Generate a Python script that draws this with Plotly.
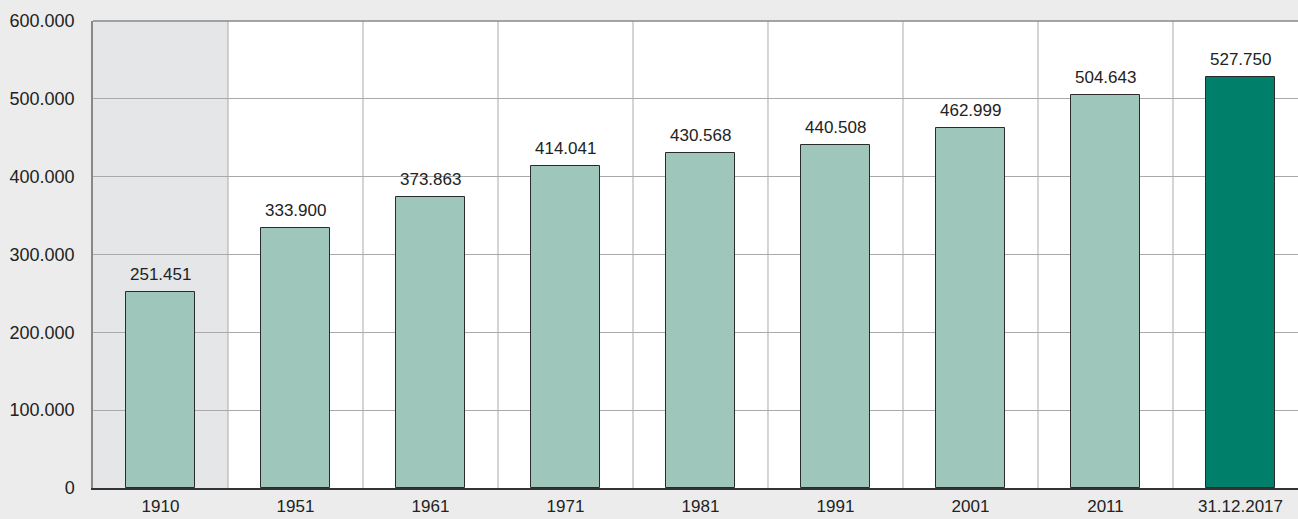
import plotly.graph_objects as go

categories = ["1910", "1951", "1961", "1971", "1981", "1991", "2001", "2011", "31.12.2017"]
values = [251451, 333900, 373863, 414041, 430568, 440508, 462999, 504643, 527750]
labels = ["251.451", "333.900", "373.863", "414.041", "430.568", "440.508", "462.999", "504.643", "527.750"]
y_ticks = [0, 100000, 200000, 300000, 400000, 500000, 600000]
y_tick_labels = ["0", "100.000", "200.000", "300.000", "400.000", "500.000", "600.000"]

light = "#9fc6bb"
dark = "#00806a"
colors = [light] * (len(categories) - 1) + [dark]
FONT = "Liberation Sans, Arial"

xs = list(range(len(categories)))
fig = go.Figure(go.Bar(
    x=xs, y=values,
    marker=dict(color=colors, line=dict(color="#2a2a2a", width=1)),
    width=0.51, hoverinfo="x+y",
))

annotations = [dict(x=x, y=v, text=t, showarrow=False, xref="x", yref="y",
                    yanchor="bottom", yshift=6,
                    font=dict(family=FONT, size=17, color="#222"))
               for x, v, t in zip(xs, values, labels)]

shapes = [dict(type="rect", xref="x", yref="paper", x0=-0.5, x1=0.5, y0=0, y1=1,
               fillcolor="#e5e6e8", line=dict(width=0), layer="below")]
for i in range(len(categories) - 1):
    shapes.append(dict(type="line", xref="x", yref="paper", x0=i + 0.5, x1=i + 0.5, y0=0, y1=1,
                       line=dict(color="#aaaaaa", width=1), layer="below"))
shapes.append(dict(type="line", xref="paper", yref="paper", x0=0, x1=1, y0=1, y1=1,
                   line=dict(color="#888888", width=1.5)))

fig.update_layout(
    width=1298, height=519,
    margin=dict(l=93, r=0, t=21, b=31),
    paper_bgcolor="#ebeceb", plot_bgcolor="#ffffff",
    showlegend=False, bargap=0,
    shapes=shapes, annotations=annotations,
    font=dict(family=FONT, size=18, color="#222"),
)
fig.update_xaxes(
    range=[-0.5, 8.426], tickmode="array", tickvals=xs, automargin=False,
    ticktext=categories, showgrid=False, showline=True, linecolor="#333", linewidth=1.5,
    ticks="outside", ticklen=2, tickcolor="rgba(0,0,0,0)", tickfont=dict(size=17),
)
fig.update_yaxes(
    range=[0, 600000], tickmode="array", tickvals=y_ticks, ticktext=y_tick_labels,
    automargin=False,
    showgrid=True, gridcolor="#aaaaaa", gridwidth=1, showline=True, linecolor="#888888",
    linewidth=1.5, ticks="outside", ticklen=13, tickcolor="rgba(0,0,0,0)", zeroline=False,
    tickfont=dict(size=18),
)
fig.write_html("out.html", config={"displayModeBar": False},
               post_script="document.body.style.margin='0';document.body.style.overflow='hidden';")
